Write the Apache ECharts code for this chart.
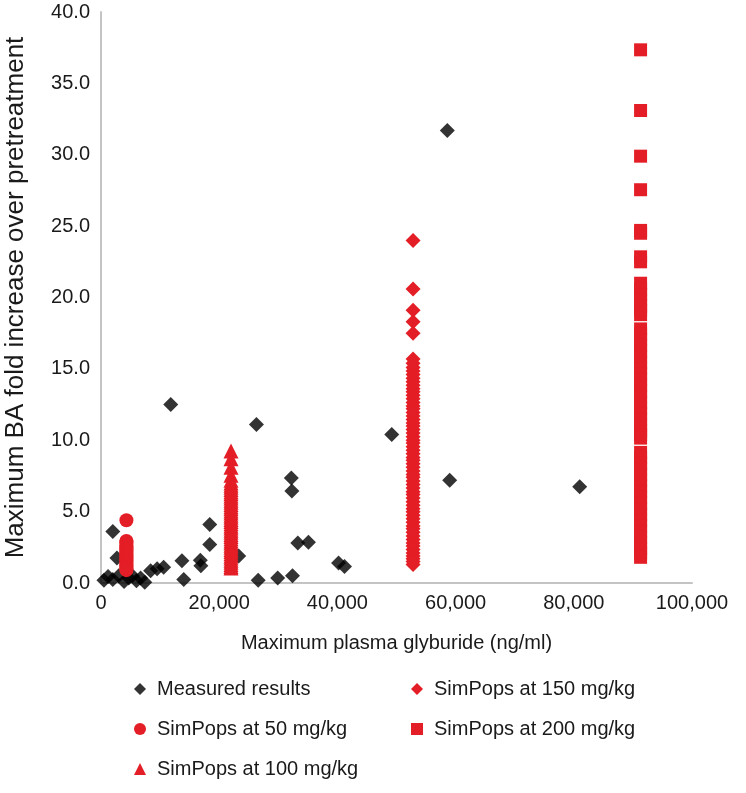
<!DOCTYPE html>
<html>
<head>
<meta charset="utf-8">
<script src="https://cdn.jsdelivr.net/npm/echarts@6/dist/echarts.min.js"></script>
<style>
html,body{margin:0;padding:0;background:#fff;}
#chart{width:746px;height:793px;}
</style>
</head>
<body>
<div id="chart"></div>
<script>
// Measured results (x: ng/ml, y: fold increase)
const measuredX = [500,1200,2000,2000,2700,3000,3900,4700,5300,6000,6700,7400,8400,9500,10600,11800,13700,14000,16800,16900,18400,18400,23300,26300,26600,29900,32200,32300,32400,33300,35100,40200,41200,49200,58600,59000,81000];
const measuredY = [0.2,0.45,0.25,3.6,1.75,0.5,0.1,0.35,0.5,0.15,0.35,0.05,0.85,1.0,1.1,12.5,1.55,0.25,1.6,1.2,4.1,2.7,1.9,11.1,0.2,0.35,7.35,6.45,0.5,2.8,2.85,1.4,1.15,10.4,31.7,7.2,6.75];

// SimPops columns (one x per dose, many simulated y values)
const sim50X = 4300;
const sim50Y = [4.4,2.95,2.85,2.75,2.6,2.5,2.4,2.3,2.2,2.1,2.0,1.9,1.8,1.7,1.6,1.5,1.4,1.3,1.2,1.1,1.0,0.9];
const sim100X = 22000;
const sim100Y = [9.25,8.7,8.1,7.55,7.2,7.0,6.85,6.7,6.55,6.4,6.25,6.1,5.95,5.8,5.65,5.5,5.35,5.2,5.05,4.9,4.75,4.6,4.45,4.3,4.15,4.0,3.85,3.7,3.55,3.4,3.25,3.1,2.95,2.8,2.65,2.5,2.35,2.2,2.05,1.9,1.75,1.6,1.45,1.3,1.15,1.05];
const sim150X = 52800;
const sim150Y = [24.0,20.6,19.1,18.3,17.5,15.7,15.4,15.1,14.85,14.6,14.35,14.1,13.85,13.6,13.4,13.15,12.9,12.65,12.4,12.2,11.95,11.7,11.45,11.2,11.0,10.75,10.5,10.25,10.0,9.8,9.55,9.3,9.05,8.8,8.6,8.35,8.1,7.85,7.6,7.4,7.15,6.9,6.65,6.4,6.2,5.95,5.7,5.45,5.2,5.0,4.75,4.5,4.25,4.0,3.8,3.55,3.3,3.05,2.8,2.6,2.35,2.1,1.9,1.7,1.5,1.3];
const sim200X = 91300;
const sim200Y = [37.35,33.1,29.9,27.55,24.7,24.5,22.85,22.5,21.0,20.6,20.2,19.8,19.4,19.1,18.8,17.8,17.45,17.05,16.65,16.25,15.85,15.45,15.05,14.65,14.25,13.85,13.45,13.05,12.65,12.25,11.85,11.45,11.05,10.65,10.4,10.15,9.15,8.8,8.4,8.0,7.6,7.2,6.8,6.4,6.0,5.6,5.2,4.8,4.4,4.0,3.6,3.2,2.8,2.4,2.1,1.8];

const seriesNames = ['Measured results','SimPops at 50 mg/kg','SimPops at 100 mg/kg','SimPops at 150 mg/kg','SimPops at 200 mg/kg'];
const xTitle = 'Maximum plasma glyburide (ng/ml)';
const yTitle = 'Maximum BA fold increase over pretreatment';

const RED = '#e41e26';
const FONT = '"Liberation Sans", Arial, sans-serif';

function col(x, ys){ return ys.map(y => [x, y]); }

const chart = echarts.init(document.getElementById('chart'), null, {renderer:'canvas'});
chart.setOption({
  animation: false,
  textStyle: {fontFamily: FONT},
  grid: {left: 101, right: 54, top: 12, bottom: 210, containLabel: false, outerBoundsMode: 'none'},
  xAxis: {
    type: 'value', min: 0, max: 100000, interval: 20000,
    name: xTitle, nameLocation: 'middle', nameGap: 50,
    nameTextStyle: {fontSize: 20, color: '#1a1a1a', fontFamily: FONT},
    axisLine: {show: true, lineStyle: {color: '#c4c4c4', width: 2}},
    axisTick: {show: false},
    splitLine: {show: false},
    axisLabel: {fontSize: 20, color: '#1a1a1a', margin: 10, fontFamily: FONT,
      formatter: v => v.toLocaleString('en-US')}
  },
  yAxis: {
    type: 'value', min: 0, max: 40, interval: 5,
    name: yTitle, nameLocation: 'middle', nameGap: 72, nameRotate: 90,
    nameTextStyle: {fontSize: 26, color: '#1a1a1a', fontFamily: FONT},
    axisLine: {show: true, lineStyle: {color: '#c4c4c4', width: 2}},
    axisTick: {show: false},
    splitLine: {show: false},
    axisLabel: {fontSize: 20, color: '#1a1a1a', margin: 11, fontFamily: FONT,
      formatter: v => v.toFixed(1)}
  },
  legend: [
    {data: [seriesNames[0], seriesNames[1], seriesNames[2]], orient: 'vertical', left: 129, top: 674,
      itemGap: 20, itemWidth: 12, itemHeight: 12,
      textStyle: {fontSize: 20, color: '#1a1a1a', fontFamily: FONT, padding: [0,0,0,6]}},
    {data: [seriesNames[3], seriesNames[4]], orient: 'vertical', left: 406, top: 674,
      itemGap: 20, itemWidth: 12, itemHeight: 12,
      textStyle: {fontSize: 20, color: '#1a1a1a', fontFamily: FONT, padding: [0,0,0,6]}}
  ],
  series: [
    {name: seriesNames[0], type: 'scatter', symbol: 'diamond', symbolSize: 15,
      itemStyle: {color: '#000'}, data: measuredX.map((x, i) => [x, measuredY[i]]), z: 2},
    {name: seriesNames[1], type: 'scatter', symbol: 'circle', symbolSize: 14,
      itemStyle: {color: RED, opacity: 1}, data: col(sim50X, sim50Y), z: 3},
    {name: seriesNames[2], type: 'scatter', symbol: 'triangle', symbolSize: 15,
      itemStyle: {color: RED, opacity: 1}, data: col(sim100X, sim100Y), z: 3},
    {name: seriesNames[3], type: 'scatter', symbol: 'diamond', symbolSize: 15,
      itemStyle: {color: RED, opacity: 1}, data: col(sim150X, sim150Y), z: 3},
    {name: seriesNames[4], type: 'scatter', symbol: 'rect', symbolSize: 13,
      itemStyle: {color: RED, opacity: 1}, data: col(sim200X, sim200Y), z: 3}
  ]
});
</script>
</body>
</html>
